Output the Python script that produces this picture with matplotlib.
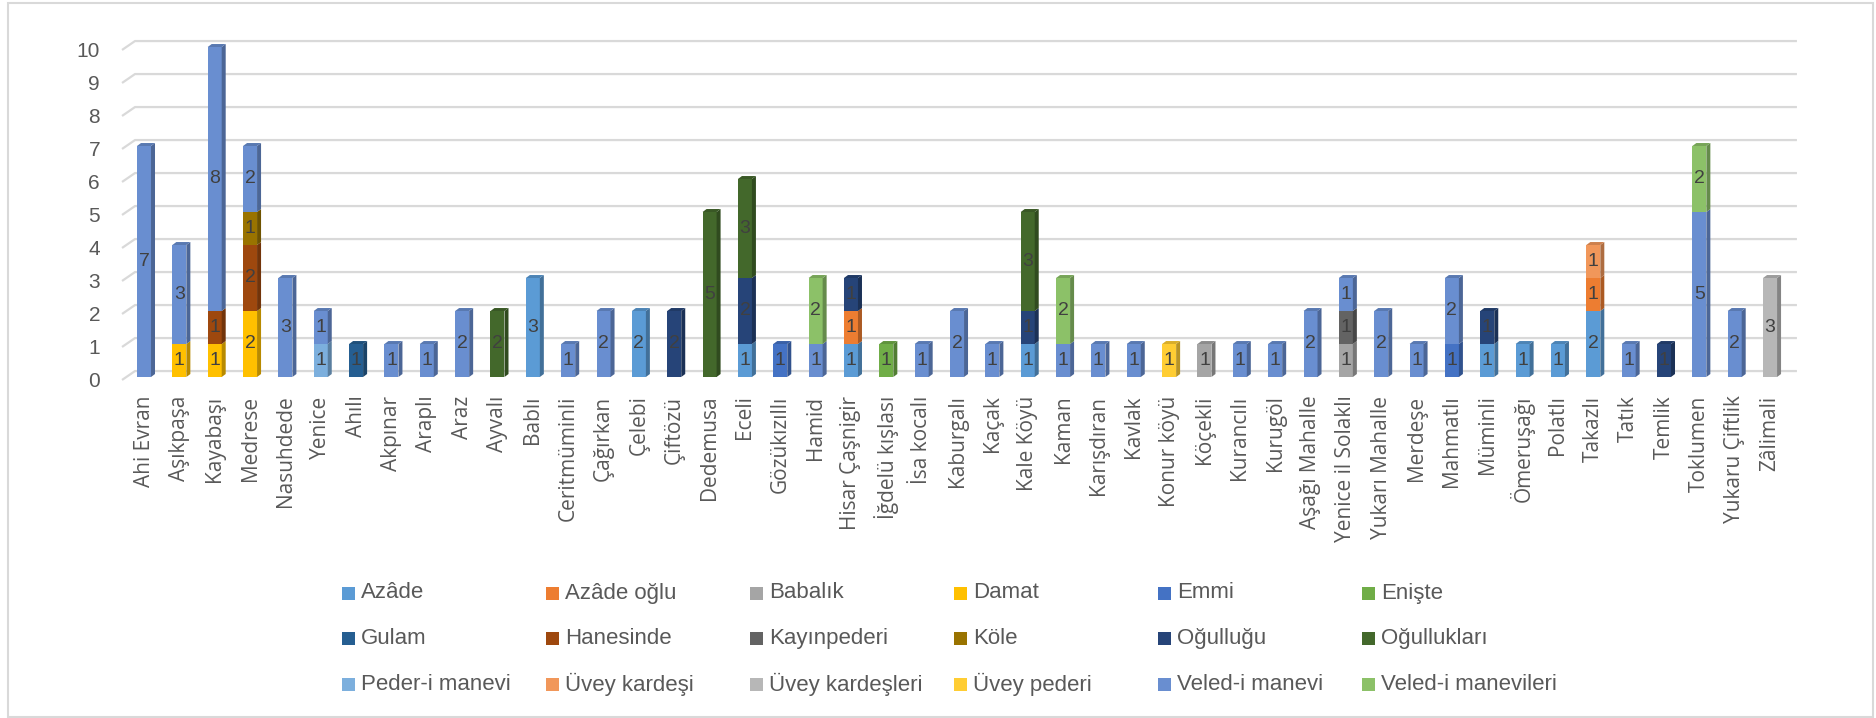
import numpy as np
import matplotlib
matplotlib.use('Agg')
import matplotlib.pyplot as plt
from matplotlib.patches import Polygon, Rectangle
from matplotlib import colors as mcolors

# categories (villages / quarters)
categories = [
    'Ahi Evran', 'Aşıkpaşa', 'Kayabaşı', 'Medrese', 'Nasuhdede', 'Yenice', 'Ahılı',
    'Akpınar', 'Araplı', 'Araz', 'Ayvalı', 'Bablı', 'Ceritmüminli', 'Çağırkan',
    'Çelebi', 'Çiftözü', 'Dedemusa', 'Eceli', 'Gözükızıllı', 'Hamid', 'Hisar Çaşnigir',
    'İğdelü kışlası', 'İsa kocalı', 'Kaburgalı', 'Kaçak', 'Kale Köyü', 'Kaman',
    'Karışdıran', 'Kavlak', 'Konur köyü', 'Köçekli', 'Kurancılı', 'Kurugöl',
    'Aşağı Mahalle', 'Yenice il Solaklı', 'Yukarı Mahalle', 'Merdeşe', 'Mahmatlı',
    'Müminli', 'Ömeruşağı', 'Polatlı', 'Takazlı', 'Tatık', 'Temlik', 'Toklumen',
    'Yukaru Çiftlik', 'Zâlimali',
]

series_names = [
    'Azâde', 'Azâde oğlu', 'Babalık', 'Damat', 'Emmi', 'Enişte',
    'Gulam', 'Hanesinde', 'Kayınpederi', 'Köle', 'Oğulluğu', 'Oğullukları',
    'Peder-i manevi', 'Üvey kardeşi', 'Üvey kardeşleri', 'Üvey pederi',
    'Veled-i manevi', 'Veled-i manevileri',
]
series_colors = [
    '#5B9BD5', '#ED7D31', '#A5A5A5', '#FFC000', '#4472C4', '#70AD47',
    '#255E91', '#9E480E', '#636363', '#997300', '#264478', '#43682B',
    '#7CAFDD', '#F1975A', '#B7B7B7', '#FFCD33', '#698ED0', '#8CC168',
]

# values per series (only non-zero entries)
azade = {'Bablı': 3, 'Çelebi': 2, 'Eceli': 1, 'Hisar Çaşnigir': 1, 'Kale Köyü': 1,
         'Müminli': 1, 'Ömeruşağı': 1, 'Polatlı': 1, 'Takazlı': 2}
azade_oglu = {'Hisar Çaşnigir': 1, 'Takazlı': 1}
babalik = {'Köçekli': 1, 'Yenice il Solaklı': 1}
damat = {'Aşıkpaşa': 1, 'Kayabaşı': 1, 'Medrese': 2}
emmi = {'Gözükızıllı': 1, 'Mahmatlı': 1}
eniste = {'İğdelü kışlası': 1}
gulam = {'Ahılı': 1}
hanesinde = {'Kayabaşı': 1, 'Medrese': 2}
kayinpederi = {'Yenice il Solaklı': 1}
kole = {'Medrese': 1}
ogullugu = {'Çiftözü': 2, 'Eceli': 2, 'Hisar Çaşnigir': 1, 'Kale Köyü': 1,
            'Müminli': 1, 'Temlik': 1}
ogulluklari = {'Ayvalı': 2, 'Dedemusa': 5, 'Eceli': 3, 'Kale Köyü': 3}
peder_i_manevi = {'Yenice': 1}
uvey_kardesi = {'Takazlı': 1}
uvey_kardesleri = {'Zâlimali': 3}
uvey_pederi = {'Konur köyü': 1}
veled_i_manevi = {'Ahi Evran': 7, 'Aşıkpaşa': 3, 'Kayabaşı': 8, 'Medrese': 2,
                  'Nasuhdede': 3, 'Yenice': 1, 'Akpınar': 1, 'Araplı': 1, 'Araz': 2,
                  'Ceritmüminli': 1, 'Çağırkan': 2, 'Hamid': 1, 'İsa kocalı': 1,
                  'Kaburgalı': 2, 'Kaçak': 1, 'Kaman': 1, 'Karışdıran': 1, 'Kavlak': 1,
                  'Kurancılı': 1, 'Kurugöl': 1, 'Aşağı Mahalle': 2,
                  'Yenice il Solaklı': 1, 'Yukarı Mahalle': 2, 'Merdeşe': 1,
                  'Mahmatlı': 2, 'Tatık': 1, 'Toklumen': 5, 'Yukaru Çiftlik': 2}
veled_i_manevileri = {'Hamid': 2, 'Kaman': 2, 'Toklumen': 2}

series_data = [azade, azade_oglu, babalik, damat, emmi, eniste, gulam, hanesinde,
               kayinpederi, kole, ogullugu, ogulluklari, peder_i_manevi, uvey_kardesi,
               uvey_kardesleri, uvey_pederi, veled_i_manevi, veled_i_manevileri]

values = np.array([[d.get(c, 0) for c in categories] for d in series_data], dtype=float)

NARROW = ['Liberation Sans Narrow', 'Liberation Sans', 'DejaVu Sans']
TEXT = '#595959'

W, H = 1876, 718
fig = plt.figure(figsize=(W / 100, H / 100), dpi=100)
fig.patch.set_facecolor('white')
ax = fig.add_axes([100 / W, 1 - 390 / H, 1710 / W, 370 / H])
ax.set_xlim(-1.245, 47.13)
ax.set_ylim(-0.394, 10.818)
for s in ax.spines.values():
    s.set_visible(False)

# back wall gridlines with the little 3d floor slant
for v in range(11):
    ax.plot([-0.622, -0.255, 46.76], [v - 0.09, v + 0.18, v + 0.18],
            color='#D9D9D9', lw=1.6, zorder=0, solid_capstyle='butt')

x = np.arange(len(categories))
bw = 0.396
dx, dy = 0.113, 0.09


def shade(c, f):
    r, g, b = mcolors.to_rgb(c)
    return (r * f, g * f, b * f)


bottom = np.zeros(len(categories))
for k, (name, col) in enumerate(zip(series_names, series_colors)):
    vals = values[k]
    bars = ax.bar(x, vals, bottom=bottom, width=bw, color=col, linewidth=0, zorder=2)
    ax.bar_label(bars, labels=[str(int(v)) if v else '' for v in vals],
                 label_type='center', color='#404040', fontsize=14,
                 family=NARROW, zorder=5)
    # right side faces
    for i in np.nonzero(vals)[0]:
        x1 = x[i] + bw / 2
        y0, y1 = bottom[i], bottom[i] + vals[i]
        ax.add_patch(Polygon([(x1, y0), (x1 + dx, y0 + dy), (x1 + dx, y1 + dy), (x1, y1)],
                             closed=True, facecolor=shade(col, 0.72), linewidth=0, zorder=2))
    bottom = bottom + vals

# top faces
for i in range(len(categories)):
    nz = np.nonzero(values[:, i])[0]
    if len(nz) == 0:
        continue
    col = series_colors[nz[-1]]
    x0, x1, yt = x[i] - bw / 2, x[i] + bw / 2, bottom[i]
    ax.add_patch(Polygon([(x0, yt), (x0 + dx, yt + dy), (x1 + dx, yt + dy), (x1, yt)],
                         closed=True, facecolor=shade(col, 0.85), linewidth=0, zorder=2))

ax.set_yticks(np.arange(11) - 0.09, labels=[str(v) for v in range(11)])
ax.tick_params(axis='y', length=0, pad=0, labelsize=15, labelcolor=TEXT)
for t in ax.get_yticklabels():
    t.set_family(NARROW)
ax.set_xticks(x, labels=categories, rotation=90)
ax.tick_params(axis='x', length=0, pad=4, labelsize=15, labelcolor=TEXT)
for t in ax.get_xticklabels():
    t.set_family(['Open Sans', 'DejaVu Sans'])

# legend, 3 rows x 6 columns, Excel style
for k, (name, col) in enumerate(zip(series_names, series_colors)):
    row, c = k // 6, k % 6
    cx = 342 + 204 * c
    cy = 593 + 45.5 * row
    fig.add_artist(Rectangle((cx / W, 1 - (cy + 6.5) / H), 13 / W, 13 / H,
                             transform=fig.transFigure, facecolor=col, linewidth=0))
    fig.text((cx + 19) / W, 1 - cy / H, name, va='center', ha='left',
             fontsize=16, color=TEXT, family=NARROW)

# chart frame
fig.add_artist(Rectangle((8 / W, 1 / H), 1865 / W, 714 / H, transform=fig.transFigure,
                         fill=False, edgecolor='#D9D9D9', linewidth=1.5))

fig.savefig('out.png', dpi=100, facecolor='white')
